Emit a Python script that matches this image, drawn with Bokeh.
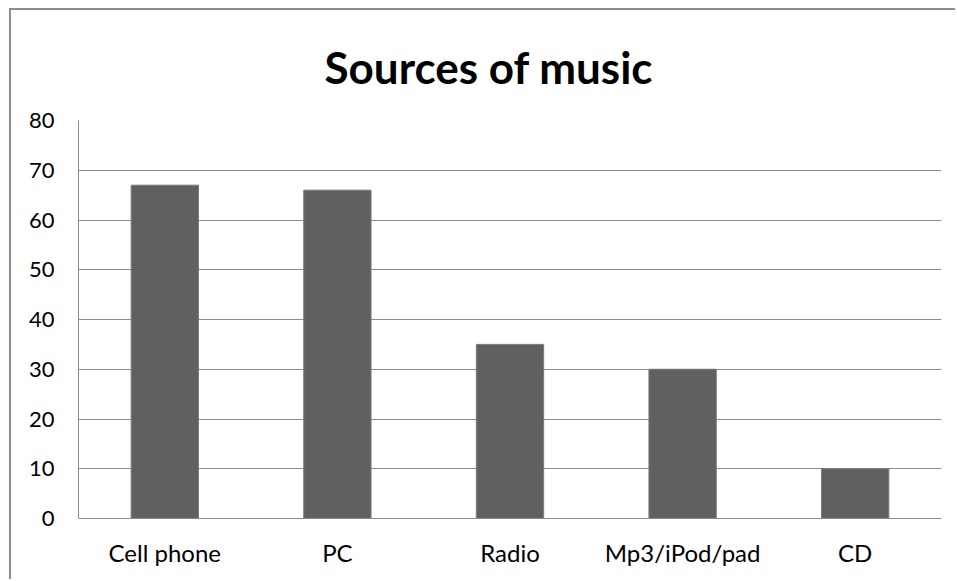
from bokeh.plotting import figure
from bokeh.models import ColumnDataSource, FactorRange, Range1d, SingleIntervalTicker
from bokeh.embed import file_html
from bokeh.resources import INLINE

categories = ["Cell phone", "PC", "Radio", "Mp3/iPod/pad", "CD"]
values = [67, 66, 35, 30, 10]

FONT = "Lato"

src = ColumnDataSource(dict(cat=categories, val=values))

p = figure(x_range=FactorRange(*categories, range_padding=0), y_range=Range1d(0, 80),
           width=946, height=571, output_backend="svg", toolbar_location=None,
           min_border_left=67, min_border_right=16, min_border_top=110, min_border_bottom=63,
           title="Sources of music",
           styles={"margin-left": "9px", "margin-top": "8px",
                   "border-left": "2px solid #8c8c8c", "border-top": "2px solid #8c8c8c"})

p.vbar(x="cat", top="val", width=0.39, source=src, fill_color="#606060",
       line_color="#7a7a7a", line_width=1)

p.title.text_font = FONT
p.title.text_font_size = "44px"
p.title.text_font_style = "bold"
p.title.align = "left"
p.title.offset = 246
p.title.text_color = "#000000"
p.title.text_line_height = 0.7
p.title.standoff = 55

p.outline_line_color = None
p.background_fill_color = "white"
p.border_fill_color = "white"

p.xgrid.grid_line_color = None
p.ygrid.grid_line_color = "#8c8c8c"
p.ygrid.grid_line_width = 1
p.yaxis.ticker = SingleIntervalTicker(interval=10)

for ax in (p.xaxis, p.yaxis):
    ax.axis_line_color = "#8c8c8c"
    ax.major_tick_line_color = None
    ax.minor_tick_line_color = None
    ax.major_tick_out = 0
    ax.major_tick_in = 0
    ax.major_label_text_font = FONT
    ax.major_label_text_color = "#000000"

p.xaxis.major_label_text_font_size = "24px"
p.yaxis.major_label_text_font_size = "22px"
p.yaxis.major_label_standoff = 20
p.xaxis.major_label_standoff = 19

open("out.html", "w").write(file_html(p, INLINE))
